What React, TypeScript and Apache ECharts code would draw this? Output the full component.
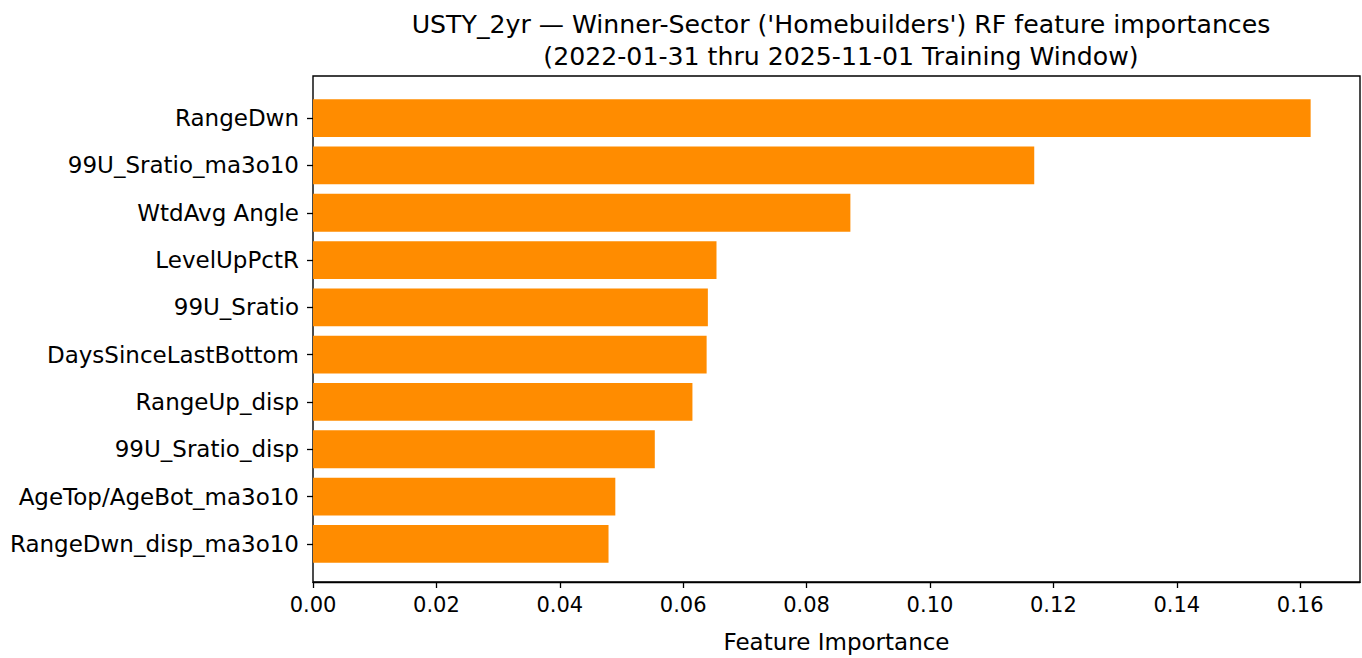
import React, { useEffect, useRef } from "react";
import * as echarts from "echarts";

const titleText =
  "USTY_2yr — Winner-Sector ('Homebuilders') RF feature importances\n(2022-01-31 thru 2025-11-01 Training Window)";
const categories = [
  "RangeDwn",
  "99U_Sratio_ma3o10",
  "WtdAvg Angle",
  "LevelUpPctR",
  "99U_Sratio",
  "DaysSinceLastBottom",
  "RangeUp_disp",
  "99U_Sratio_disp",
  "AgeTop/AgeBot_ma3o10",
  "RangeDwn_disp_ma3o10",
];
const importances = [0.1617, 0.1169, 0.0871, 0.0654, 0.064, 0.0638, 0.0615, 0.0554, 0.049, 0.0479];
const xTickValues = [0, 0.02, 0.04, 0.06, 0.08, 0.1, 0.12, 0.14, 0.16];
const xMax = 0.1697;
const xAxisName = "Feature Importance";

const FONT = "DejaVu Sans";

export default function App() {
  const ref = useRef<HTMLDivElement>(null);
  useEffect(() => {
    const chart = echarts.init(ref.current!, null, { renderer: "svg" });
    chart.setOption({
      animation: false,
      backgroundColor: "#ffffff",
      title: {
        text: titleText,
        left: 836,
        top: 3,
        textAlign: "center",
        textStyle: {
          fontFamily: FONT,
          fontSize: 25.2,
          fontWeight: "normal",
          color: "#000",
          lineHeight: 32,
        },
      },
      grid: [
        { left: 313, right: 2, top: 94.5, height: 473, containLabel: false },
        {
          left: 313,
          right: 2,
          top: 76,
          bottom: 72,
          show: true,
          borderColor: "#000",
          borderWidth: 1.4,
          backgroundColor: "transparent",
        },
      ],
      xAxis: [
        { gridIndex: 0, type: "value", min: 0, max: xMax, show: false },
        {
          gridIndex: 1,
          type: "value",
          min: 0,
          max: xMax,
          interval: 0.02,
          splitLine: { show: false },
          axisLine: { show: true, lineStyle: { color: "#000", width: 1.4 } },
          axisTick: {
            show: true,
            length: 6,
            customValues: xTickValues,
            lineStyle: { color: "#000", width: 1.3 },
          },
          axisLabel: {
            customValues: xTickValues,
            margin: 12,
            fontFamily: FONT,
            fontSize: 21,
            color: "#000",
            formatter: (v: number) => v.toFixed(2),
          },
          name: xAxisName,
          nameLocation: "middle",
          nameGap: 48,
          nameTextStyle: { fontFamily: FONT, fontSize: 23, color: "#000" },
        },
      ],
      yAxis: [
        {
          gridIndex: 0,
          type: "category",
          data: categories,
          inverse: true,
          axisLine: { show: false },
          axisTick: {
            show: true,
            alignWithLabel: true,
            length: 6,
            lineStyle: { color: "#000", width: 1.3 },
          },
          axisLabel: {
            margin: 14,
            fontFamily: FONT,
            fontSize: 23,
            color: "#000",
            padding: [7, 0, 0, 0],
          },
          splitLine: { show: false },
        },
        { gridIndex: 1, type: "value", show: false, min: 0, max: 1 },
      ],
      series: [
        {
          type: "bar",
          xAxisIndex: 0,
          yAxisIndex: 0,
          data: importances,
          barWidth: "80%",
          itemStyle: { color: "#FF8C00" },
        },
      ],
    });
    return () => chart.dispose();
  }, []);
  return (
    <div
      ref={ref}
      style={{ position: "absolute", left: 0, top: 0, width: 1362, height: 658 }}
    />
  );
}
